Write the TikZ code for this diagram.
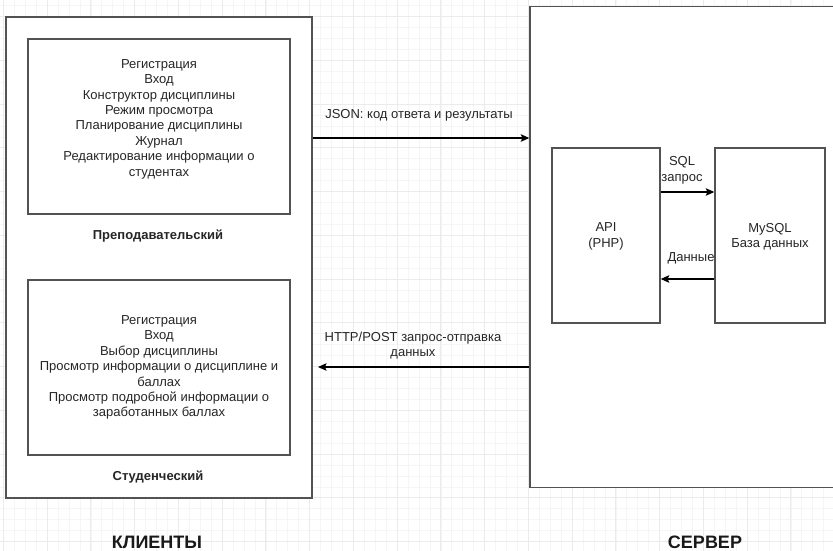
\documentclass[tikz,border=0pt]{standalone}
\usepackage{fontspec}
\setmainfont{Liberation Sans}
\usetikzlibrary{arrows.meta}
\begin{document}
\begin{tikzpicture}[x=1pt,y=-1pt,
  gridminor/.style={draw=black!4,line width=0.6pt},
  gridmajor/.style={draw=black!8,line width=0.8pt},
  box/.style={draw=black!68,line width=1.4pt,fill=white,inner sep=0pt},
  txt/.style={font=\fontsize{13}{15.4}\selectfont,text=black!85,align=center,inner sep=0pt},
  bold/.style={font=\fontsize{13}{15.4}\selectfont\bfseries,text=black!85,inner sep=0pt},
  big/.style={font=\fontsize{18}{20}\selectfont\bfseries,text=black!90,inner sep=0pt,anchor=base},
  arr/.style={draw=black,line width=1.2pt,-{Stealth[length=8.5pt,width=7.5pt,inset=1.5pt]}}]
\useasboundingbox (0,0) rectangle (833,551);
\clip (0,0) rectangle (833,551);
\fill[white] (0,0) rectangle (833,551);
% faint canvas grid
\foreach \i in {0,...,77} {
  \draw[gridminor] ({3.3+\i*10.9375},0) -- ++(0,551);
}
\foreach \i in {0,...,51} {
  \draw[gridminor] (0,{5.56+\i*10.9375}) -- ++(833,0);
}
\foreach \i in {0,...,19} {
  \draw[gridmajor] ({3.3+\i*43.75},0) -- ++(0,551);
}
\foreach \i in {0,...,12} {
  \draw[gridmajor] (0,{16.5+\i*43.75}) -- ++(833,0);
}
% client side
\node[box,minimum width=306pt,minimum height=481pt] (cli) at (159,257.5) {};
\node[box,minimum width=262pt,minimum height=175pt] (teach) at (159,126.5) {};
\node[txt] (teachtxt) at (159,119) {Регистрация\\Вход\\Конструктор дисциплины\\Режим просмотра\\Планирование дисциплины\\Журнал\\Редактирование информации о\\студентах};
\node[bold] (teachlbl) at (158,236) {Преподавательский};
\node[box,minimum width=262pt,minimum height=175pt] (stud) at (159,367.5) {};
\node[txt] (studtxt) at (159,367.5) {Регистрация\\Вход\\Выбор дисциплины\\Просмотр информации о дисциплине и\\баллах\\Просмотр подробной информации о\\заработанных баллах};
\node[bold] (studlbl) at (158,477) {Студенческий};
\node[big] (clilbl) at (157,548.5) {КЛИЕНТЫ};
% server side
\node[box,minimum width=310pt,minimum height=481pt] (srv) at (685,247) {};
\node[box,minimum width=108pt,minimum height=175pt] (api) at (606,235.5) {};
\node[txt] (apitxt) at (606,236.5) {API\\(PHP)};
\node[box,minimum width=110pt,minimum height=175pt] (db) at (770,235.5) {};
\node[txt] (dbtxt) at (770,236.5) {MySQL\\База данных};
\node[big] (srvlbl) at (705,548.5) {СЕРВЕР};
% connectors
\draw[arr] (cli.east |- 0,138) -- (srv.west |- 0,138);
\node[txt] (jsonlbl) at (419,115) {JSON: код ответа и результаты};
\coordinate (httpend) at (318,367);
\draw[arr] (srv.west |- httpend) -- (httpend);
\node[txt] (httplbl) at (413,345.5) {HTTP/POST запрос-отправка\\данных};
\draw[arr] (api.east |- 0,192) -- (db.west |- 0,192);
\node[txt] (sqllbl) at (682,170.5) {SQL\\запрос};
\draw[arr] (db.west |- 0,279) -- (api.east |- 0,279);
\node[txt] (datalbl) at (691,258) {Данные};
\end{tikzpicture}
\end{document}
